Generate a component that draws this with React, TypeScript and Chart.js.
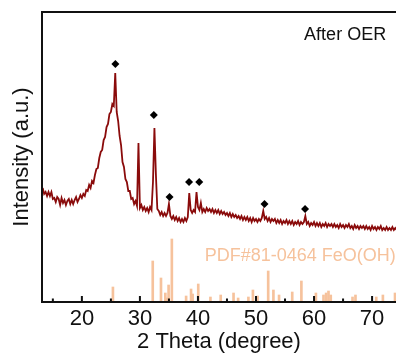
import React, { useEffect, useRef } from 'react';
import { Chart, registerables } from 'chart.js';

Chart.register(...registerables);

const FONT = '"Liberation Sans", Arial, Helvetica, sans-serif';
const LINE_COLOR = '#8a0b0b';
const PEACH = '#f6c29c';

// XRD scan: evenly sampled angles (2θ) from scanStart with scanStep
const scanStart = 13.25;
const scanStep = 0.25;
const scanIntensity = [
  114, 108, 110, 106, 110, 106, 110, 103, 104, 100, 105, 103, 97, 104, 99, 102, 97, 101, 103, 98,
  102, 98, 102, 105, 100, 103, 107, 104, 108, 106, 112, 111, 117, 114, 121, 119, 127, 133, 134, 144,
  150, 152, 162, 165, 175, 178, 188, 190, 198, 196, 229, 190, 181, 166, 157, 140, 135, 123, 120, 111,
  111, 103, 104, 98, 101, 96, 159, 94, 97, 92, 95, 91, 94, 90, 95, 92, 120, 174, 128, 93,
  91, 87, 90, 86, 89, 86, 89, 98, 86, 83, 86, 82, 85, 81, 84, 80, 83, 80, 84, 81,
  85, 109, 92, 89, 92, 90, 110, 95, 92, 99, 90, 93, 90, 94, 91, 93, 90, 93, 89, 92,
  89, 92, 88, 91, 88, 90, 87, 89, 86, 89, 85, 88, 85, 87, 84, 86, 83, 86, 82, 85,
  82, 85, 81, 84, 80, 84, 81, 83, 80, 83, 81, 84, 91, 83, 85, 81, 84, 80, 83, 81,
  83, 79, 82, 79, 82, 78, 81, 79, 82, 78, 81, 78, 81, 77, 80, 78, 81, 77, 80, 78,
  80, 86, 78, 80, 76, 79, 77, 80, 76, 79, 76, 79, 75, 78, 76, 79, 75, 78, 76, 78,
  75, 78, 75, 77, 74, 78, 75, 77, 74, 77, 75, 78, 74, 76, 73, 77, 74, 76, 73, 76,
  74, 76, 73, 76, 73, 75, 72, 76, 73, 75, 72, 75, 73, 76, 72, 74, 72, 75, 72, 74,
  72, 75, 72, 74, 72,
];

// Diamond peak markers
const markerAngles = [25.77, 32.39, 35.11, 38.47, 40.22, 51.46, 58.45];
const markerHeights = [238, 187, 105, 120, 120, 98, 93];

// Reference pattern PDF#81-0464 FeO(OH)
const refAngles = [
  25.35, 32.21, 33.63, 34.38, 34.65, 34.94, 35.5, 37.96, 38.81, 39.08, 40.05, 42.15, 43.92,
  46.13, 46.92, 48.69, 49.47, 50.27, 52.1, 53.0, 53.97, 56.24, 57.82, 60.32, 61.63, 62.08,
  62.49, 62.88, 66.63, 67.14, 70.72, 71.86, 73.95,
];
const refHeights = [
  15, 41, 24, 9, 4, 17, 63, 6, 13, 8, 18, 5, 7,
  9, 4, 5, 12, 6, 31, 12, 7, 10, 21, 9, 7, 9,
  11, 7, 5, 7, 5, 7, 9,
];

const xMin = 13.13;
const xMax = 74.12;
const yMin = 0;
const yMax = 290;
const majorTicks = [20, 30, 40, 50, 60, 70];
const minorTicks = [15, 25, 35, 45, 55, 65];

const sampleLabel = 'After OER';
const sampleLabelAt = { x: 72.42, y: 262.5 };
const refLabel = 'PDF#81-0464 FeO(OH)';
const refLabelAt = { x: 41.16, y: 41 };

const framePlugin = {
  id: 'frame',
  afterDatasetsDraw(chart: any) {
    const { ctx, chartArea: a, scales } = chart;
    const xs = scales.x;
    const ys = scales.y;
    ctx.save();
    ctx.strokeStyle = '#111';
    ctx.lineWidth = 2;
    ctx.beginPath();
    ctx.moveTo(a.left, a.top);
    ctx.lineTo(a.left, a.bottom + 1);
    ctx.moveTo(a.left - 1, a.bottom);
    ctx.lineTo(a.right, a.bottom);
    ctx.moveTo(a.left - 1, a.top);
    ctx.lineTo(a.right, a.top);
    ctx.stroke();
    ctx.beginPath();
    majorTicks.forEach((v) => {
      const p = xs.getPixelForValue(v);
      ctx.moveTo(p, a.bottom);
      ctx.lineTo(p, a.bottom - 6);
    });
    minorTicks.forEach((v) => {
      const p = xs.getPixelForValue(v);
      ctx.moveTo(p, a.bottom);
      ctx.lineTo(p, a.bottom - 3.5);
    });
    ctx.stroke();

    ctx.font = `18px ${FONT}`;
    ctx.textBaseline = 'alphabetic';
    ctx.fillStyle = '#111';
    ctx.textAlign = 'right';
    ctx.fillText(sampleLabel, xs.getPixelForValue(sampleLabelAt.x), ys.getPixelForValue(sampleLabelAt.y));
    ctx.fillStyle = PEACH;
    ctx.textAlign = 'left';
    ctx.fillText(refLabel, xs.getPixelForValue(refLabelAt.x), ys.getPixelForValue(refLabelAt.y));
    ctx.restore();
  },
};

export default function App() {
  const canvasRef = useRef<HTMLCanvasElement | null>(null);

  useEffect(() => {
    const canvas = canvasRef.current;
    if (!canvas) return;
    const scan = scanIntensity.map((v, i) => ({ x: scanStart + i * scanStep, y: v }));
    const markers = markerAngles.map((a, i) => ({ x: a, y: markerHeights[i] }));
    const refs = refAngles.map((a, i) => ({ x: a, y: refHeights[i] }));

    const chart = new Chart(canvas, {
      type: 'line',
      data: {
        datasets: [
          {
            type: 'bar',
            data: refs as any,
            backgroundColor: PEACH,
            barThickness: 2,
            order: 3,
          } as any,
          {
            type: 'line',
            data: scan as any,
            borderColor: LINE_COLOR,
            borderWidth: 1.8,
            pointRadius: 0,
            tension: 0,
            order: 2,
          },
          {
            type: 'line',
            data: markers as any,
            showLine: false,
            pointStyle: 'rectRot',
            pointRadius: 4,
            backgroundColor: '#000',
            borderColor: '#000',
            borderWidth: 0,
            order: 1,
          } as any,
        ],
      },
      options: {
        animation: false,
        responsive: true,
        maintainAspectRatio: false,
        layout: { padding: { top: 12, right: 0, left: 0, bottom: 0 } },
        plugins: { legend: { display: false }, tooltip: { enabled: false } },
        scales: {
          x: {
            type: 'linear',
            min: xMin,
            max: xMax,
            offset: false,
            grid: { display: false, drawTicks: false },
            border: { display: false },
            afterBuildTicks: (s: any) => {
              s.ticks = majorTicks.map((v) => ({ value: v }));
            },
            afterFit: (s: any) => {
              s.height = 51;
            },
            ticks: {
              autoSkip: false,
              maxRotation: 0,
              padding: 4,
              color: '#111',
              font: { size: 22, family: FONT },
              callback: (v: any) => String(v),
            },
            title: {
              display: true,
              text: '2 Theta (degree)',
              color: '#111',
              font: { size: 22, family: FONT, lineHeight: 1 },
              padding: { top: 0, bottom: 0 },
            },
          },
          y: {
            type: 'linear',
            min: yMin,
            max: yMax,
            grid: { display: false, drawTicks: false },
            border: { display: false },
            ticks: { display: false },
            afterFit: (s: any) => {
              s.width = 42;
            },
            title: {
              display: true,
              text: 'Intensity (a.u.)',
              color: '#111',
              font: { size: 22, family: FONT, lineHeight: 1 },
              padding: { top: 11, bottom: 0 },
            },
          },
        },
      } as any,
      plugins: [framePlugin],
    });
    return () => chart.destroy();
  }, []);

  return (
    <div style={{ position: 'fixed', left: 0, top: 0, width: 400, height: 353, background: '#fff' }}>
      <canvas ref={canvasRef} />
    </div>
  );
}
